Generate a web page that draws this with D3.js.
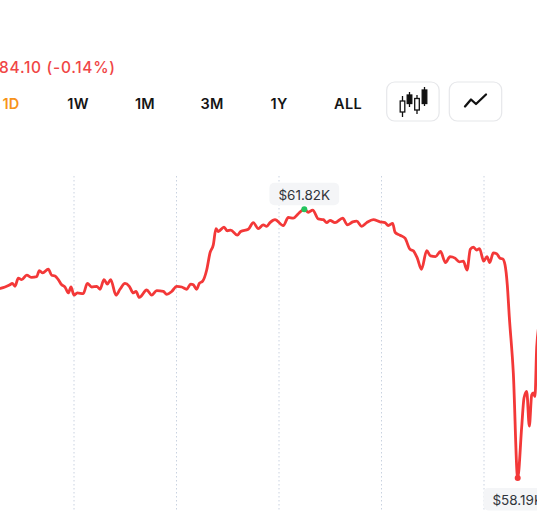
<!DOCTYPE html>
<html>
<head>
<meta charset="utf-8">
<script src="https://cdn.jsdelivr.net/npm/d3@7"></script>
<style>
  html, body { margin: 0; padding: 0; background: #ffffff; overflow: hidden; }
  svg { display: block; font-family: Inter, "Noto Sans", "DejaVu Sans", sans-serif; }
</style>
</head>
<body>
<svg id="chart" width="537" height="512"></svg>
<script>
// ---- data (hours of the day, price in thousands USD) ----
const hours = [0.995,1.112,1.307,1.502,1.592,1.698,1.826,1.959,2.154,2.349,2.544,2.646,2.779,2.997,3.130,3.259,3.387,3.520,3.649,3.778,3.883,
  4.000,4.129,4.363,4.519,4.691,4.886,5.015,5.171,5.300,5.432,5.639,5.795,5.990,6.158,6.314,6.420,6.548,6.837,7.032,7.227,7.485,7.617,7.813,
  8.008,8.203,8.398,8.554,8.656,8.788,8.890,9.022,9.178,9.307,9.436,9.541,9.631,9.854,9.982,10.115,10.373,10.505,10.802,10.997,11.192,11.387,11.520,11.649,11.844,
  12.168,12.363,12.558,12.753,12.987,13.144,13.315,13.534,13.729,13.861,13.990,14.185,14.486,14.666,14.876,15.032,15.227,15.423,15.680,15.941,
  16.137,16.265,16.437,16.527,16.722,16.917,17.112,17.241,17.397,17.561,17.764,17.912,18.107,18.302,18.497,18.673,18.868,19.036,19.192,19.337,19.466,19.583,19.707,19.824,19.988,
  20.117,20.222,20.363,20.495,20.624,20.730,20.820,20.909,20.987,21.144,21.315,21.471,21.561,21.667,21.768,21.861,21.924,21.990,22.057,22.185];
const prices = [60.74,60.75,60.77,60.80,60.82,60.78,60.89,60.87,60.93,60.90,60.91,60.99,60.96,61.01,60.93,60.92,60.87,60.80,60.77,60.69,60.77,
  60.66,60.69,60.68,60.82,60.77,60.78,60.74,60.87,60.81,60.87,60.66,60.74,60.82,60.78,60.69,60.71,60.63,60.73,60.66,60.72,60.71,60.67,60.71,
  60.78,60.77,60.74,60.81,60.80,60.74,60.82,60.85,61.00,61.23,61.34,61.56,61.52,61.58,61.53,61.54,61.47,61.52,61.55,61.64,61.56,61.61,61.59,61.64,61.68,
  61.60,61.71,61.70,61.76,61.82,61.78,61.81,61.69,61.68,61.64,61.67,61.64,61.70,61.61,61.65,61.66,61.59,61.64,61.68,61.65,
  61.64,61.60,61.63,61.51,61.47,61.43,61.28,61.26,61.16,61.01,61.26,61.19,61.18,61.25,61.10,61.18,61.16,61.11,61.12,61.00,61.28,61.31,61.27,61.29,61.12,
  61.18,61.10,61.23,61.22,61.16,61.15,61.07,60.80,60.37,59.61,58.19,58.88,59.27,59.36,58.89,59.31,59.34,59.29,59.96,60.33];
const gridHours = [4, 8, 12, 16, 20];
const periods = ["1D", "1W", "1M", "3M", "1Y", "ALL"];
const activePeriod = "1D";
const changePrefix = "-$";
const changeText = "84.10 (-0.14%)";

const data = hours.map((h, i) => ({ h, p: prices[i] }));

const svg = d3.select("#chart");
const W = 537, H = 512;

// scales
const x = d3.scaleLinear().domain([0, 24]).range([-28.5, 586.5]);
const y = d3.scaleLinear().domain([58.19, 61.82]).range([478, 209.3]);

// ---- header ----
const hdr = svg.append("text")
  .attr("y", 72.5)
  .attr("font-size", 15.5).attr("font-weight", 500)
  .attr("letter-spacing", 0.7)
  .attr("fill", "#f04545");
const pre = hdr.append("tspan").text(changePrefix);
hdr.append("tspan").text(changeText);
const preW = pre.node().getComputedTextLength() + 0.7 * changePrefix.length;
hdr.attr("x", -preW + 0.5);

const px = d3.scalePoint().domain(periods).range([11, 346]);
svg.append("g").selectAll("text").data(periods).join("text")
  .attr("x", d => px(d) + (d === "ALL" ? 2 : 0))
  .attr("y", 109)
  .attr("text-anchor", "middle")
  .attr("font-size", 14.5).attr("font-weight", 600)
  .attr("letter-spacing", 0.3)
  .attr("fill", d => d === activePeriod ? "#f7931a" : "#151515")
  .text(d => d);

// buttons
const btns = svg.append("g");
[386.7, 449.3].forEach(bx => {
  btns.append("rect").attr("x", bx).attr("y", 82).attr("width", 52.4).attr("height", 39)
    .attr("rx", 8).attr("fill", "#fff").attr("stroke", "#e6e7ea").attr("stroke-width", 1.2);
});
// candle icon
const icon = btns.append("g").attr("stroke", "#111").attr("stroke-width", 1.3);
const candles = [
  {cx: 402.5, w0: 96, w1: 117, b0: 101, b1: 112, filled: false},
  {cx: 409.5, w0: 92, w1: 107, b0: 95, b1: 103.5, filled: true},
  {cx: 417, w0: 95, w1: 114, b0: 98.5, b1: 110, filled: false},
  {cx: 424.5, w0: 87, w1: 106, b0: 90, b1: 103.5, filled: true}
];
candles.forEach(c => {
  icon.append("line").attr("x1", c.cx).attr("x2", c.cx).attr("y1", c.w0).attr("y2", c.w1);
  icon.append("rect").attr("x", c.cx - 2.3).attr("y", c.b0).attr("width", 4.6).attr("height", c.b1 - c.b0)
    .attr("fill", c.filled ? "#111" : "#fff");
});
// line icon
btns.append("path").attr("d", "M465,106.5 L471,99.5 L476,104 L486,94.5")
  .attr("fill", "none").attr("stroke", "#111").attr("stroke-width", 2.3)
  .attr("stroke-linejoin", "round").attr("stroke-linecap", "round");

// ---- grid ----
svg.append("g").selectAll("line").data(gridHours).join("line")
  .attr("x1", d => x(d)).attr("x2", d => x(d))
  .attr("y1", 176).attr("y2", H)
  .attr("stroke", "#c9d2e0").attr("stroke-width", 1)
  .attr("stroke-dasharray", "1.5,2.5");

// ---- line ----
const line = d3.line().x(d => x(d.h)).y(d => y(d.p)).curve(d3.curveMonotoneX);
svg.append("path").datum(data)
  .attr("d", line)
  .attr("fill", "none")
  .attr("stroke", "#f33838")
  .attr("stroke-width", 2.8)
  .attr("stroke-linejoin", "round");

// ---- extremes ----
const maxD = data.reduce((a, b) => b.p > a.p ? b : a);
const minD = data.reduce((a, b) => b.p < a.p ? b : a);
const fmt = v => "$" + v.toFixed(2) + "K";

function label(d, above) {
  const g = svg.append("g");
  const cx = x(d.h), cy = y(d.p);
  const rect = g.append("rect").attr("fill", "#f4f5f7").attr("rx", 5);
  const t = g.append("text").attr("x", cx).attr("text-anchor", "middle")
    .attr("font-size", 13.5).attr("fill", "#30343b").text(fmt(d.p));
  const h = 22.5;
  const top = above ? cy - 4 - h : cy + 10;
  t.attr("y", top + 16.8);
  const bw = t.node().getBBox().width + 18;
  rect.attr("x", cx - bw / 2).attr("y", top).attr("width", bw).attr("height", h);
}
label(maxD, true);
label(minD, false);

svg.append("circle").attr("cx", x(maxD.h)).attr("cy", y(maxD.p)).attr("r", 3).attr("fill", "#22c55e");
svg.append("circle").attr("cx", x(minD.h)).attr("cy", y(minD.p)).attr("r", 3).attr("fill", "#f33838");
</script>
</body>
</html>
